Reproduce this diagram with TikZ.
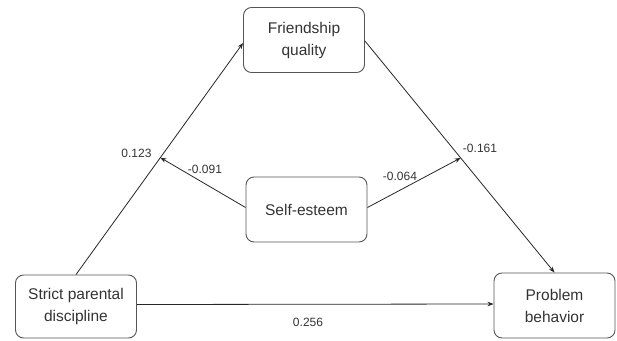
\documentclass[tikz,border=0pt]{standalone}
\usepackage{fontspec}
\setmainfont{Liberation Sans}
\usetikzlibrary{calc,arrows.meta}
\definecolor{boxline}{HTML}{555555}
\definecolor{txt}{HTML}{333333}
\tikzset{
  varbox/.style={draw=boxline, line width=0.9pt, rounded corners=8pt, minimum width=121pt, minimum height=65pt, align=center, text=txt, font=\fontsize{15.5}{22}\selectfont, inner sep=0pt},
  conn/.style={draw=black!85, line width=0.8pt, -{Stealth[length=6pt,width=4.5pt]}},
  plain/.style={draw=black!85, line width=0.8pt},
  coef/.style={text=txt, font=\fontsize{12}{14}\selectfont, inner sep=0pt}
}
\begin{document}
\begin{tikzpicture}[x=1pt,y=-1pt]
\useasboundingbox (0,0) rectangle (617,340);
\node[varbox] (F) at (304,40) {Friendship\\quality};
\node[varbox] (S) at (306.5,209.5) {Self-esteem};
\node[varbox, minimum height=63pt] (P) at (76,306.5) {Strict parental\\discipline};
\node[varbox] (B) at (554.5,305.5) {Problem\\behavior};
\coordinate (Fw) at ([yshift=-3pt]F.west);
\coordinate (Fe) at ([yshift=-1pt]F.east);
\coordinate (Sw) at ([yshift=2pt]S.west);
\coordinate (Se) at ([yshift=2pt]S.east);
\coordinate (Pe) at ([yshift=2pt]P.east);
\coordinate (Bw) at ([yshift=1.5pt]B.west);
\draw[conn] (P.north) -- (Fw);
\draw[conn] (Fe) -- (B.north);
\draw[conn] (Pe) -- (Bw);
\coordinate (mL) at ($(P.north)!0.505!(Fw)$);
\coordinate (mR) at ($(Fe)!0.505!(B.north)$);
\draw[conn] (Sw) -- (mL);
\draw[conn] (Se) -- (mR);
\node[coef] (c1) at (136.5,153) {0.123};
\node[coef] (c2) at (205,169) {-0.091};
\node[coef] (c3) at (400,176) {-0.064};
\node[coef] (c4) at (480,148) {-0.161};
\node[coef] (c5) at (308,322) {0.256};
\end{tikzpicture}
\end{document}
